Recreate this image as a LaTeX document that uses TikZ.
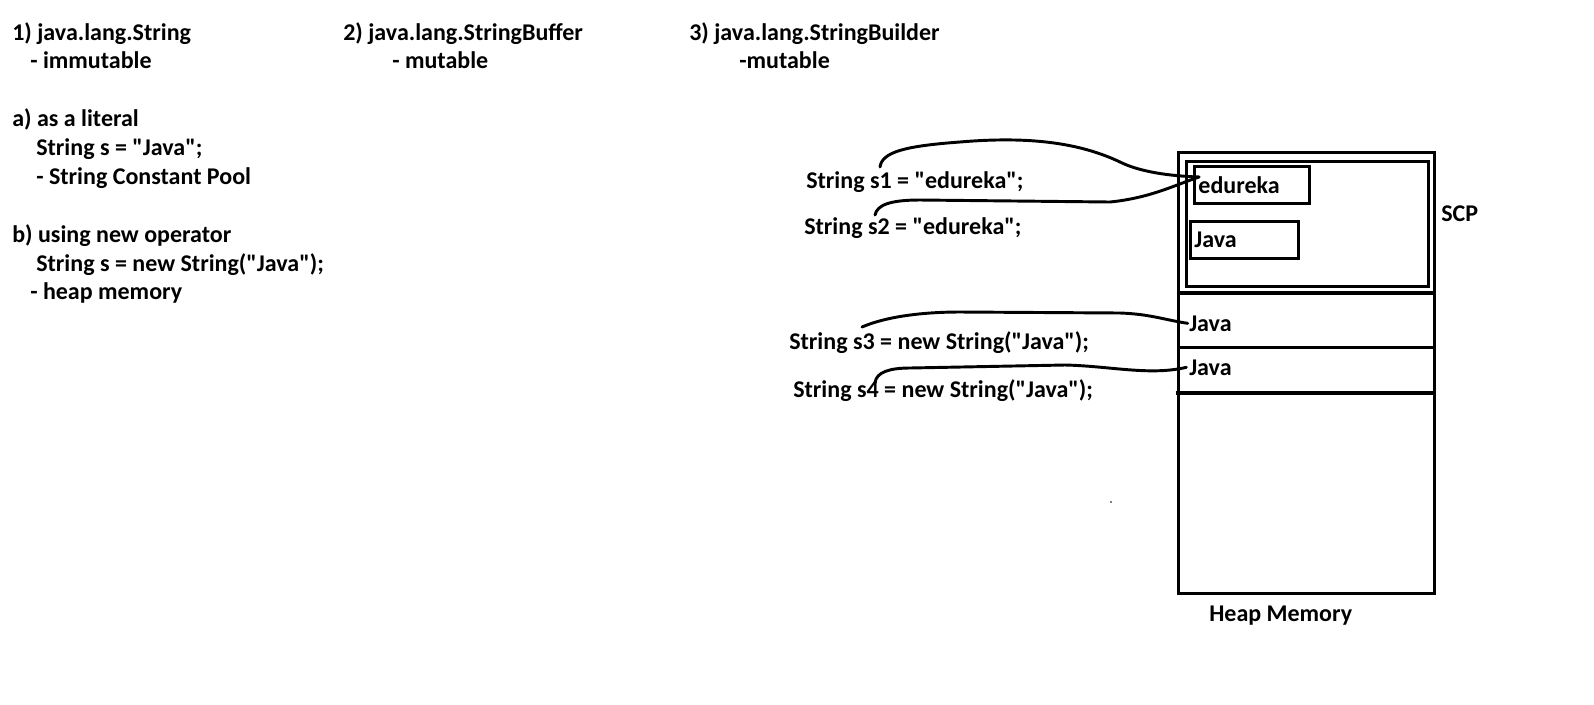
\documentclass[tikz,border=0pt]{standalone}
\usepackage{fontspec}
\setmainfont{Carlito}[Ligatures=TeXOff]
\usetikzlibrary{positioning}

\begin{document}
\begin{tikzpicture}[
  x=0.75pt, y=-0.75pt,
  every node/.style={
    font=\fontsize{18}{21}\selectfont\bfseries,
    inner sep=0pt
  },
  txt/.style={anchor=base west},
  cell/.style={
    draw, line width=2.2pt, anchor=north west,
    inner xsep=3pt, text width=#1, align=left,
    minimum height=28pt
  },
  wall/.style={line width=2.4pt},
  link/.style={line width=2.2pt, line cap=round}
]
  \useasboundingbox (0,0) rectangle (1594,704);

  % left column
  \node[txt] (str)    at (12,40)  {1) java.lang.String};
  \node[txt] (immut)  at (30,68)  {- immutable};
  \node[txt] (buf)    at (343,40) {2) java.lang.StringBuffer};
  \node[txt] (mutb)   at (392,68) {- mutable};
  \node[txt] (bld)    at (689,40) {3) java.lang.StringBuilder};
  \node[txt] (mutc)   at (739,68) {-mutable};

  \node[txt] (lit)    at (12,126) {a) as a literal};
  \node[txt] (litex)  at (36,155) {String s = "Java";};
  \node[txt] (pool)   at (36,184) {- String Constant Pool};
  \node[txt] (newop)  at (12,242) {b) using new operator};
  \node[txt] (newex)  at (36,271) {String s = new String("Java");};
  \node[txt] (hmem)   at (30,299) {- heap memory};

  % heap
  \node[draw, wall, anchor=north west, minimum width=192pt,
        minimum height=330.5pt] (heap) at (1177,151) {};
  \node[draw, wall, anchor=north west, minimum width=181.5pt,
        minimum height=93.5pt] (scp) at (1185,160) {};
  \draw[wall] (heap.west |- 0,293) -- (heap.east |- 0,293);
  \draw[wall] (heap.west |- 0,347.5) -- (heap.east |- 0,347.5);
  \draw[wall] ([xshift=-1pt]heap.west |- 0,393) -- (heap.east |- 0,393);

  \node[cell=80pt] (edu)   at (1193,165) {edureka};
  \node[cell=75pt] (java0) at (1189,220) {Java};
  \node[txt] (java1) at (1189,331) {Java};
  \node[txt] (java2) at (1189,375) {Java};
  \node[txt] (scplbl) at (1441,221) {SCP};
  \node[txt] (heaplbl) at (1209,621) {Heap Memory};
  \fill (1111,502) circle (0.7pt);

  % references
  \node[txt] (s1) at (806,188) {String s1 = "edureka";};
  \node[txt] (s2) at (804,234) {String s2 = "edureka";};
  \node[txt] (s3) at (789,349) {String s3 = new String("Java");};
  \node[txt] (s4) at (793,397) {String s4 = new String("Java");};

  \coordinate (p1) at (880,167);
  \coordinate (p2) at (875,215);
  \coordinate (p3) at (862,327);
  \coordinate (p4) at (875,383);
  \coordinate (hit) at (1199,177);

  \draw[link] (p1) .. controls (882,152) and (905,146) .. (960,142)
    .. controls (1030,136) and (1080,143) .. (1120,162)
    .. controls (1140,172) and (1170,176) .. (hit);
  \draw[link] (p2) .. controls (877,205) and (890,200) .. (920,200)
    -- (1110,202) .. controls (1150,198) and (1175,185) .. (hit);
  \draw[link] (p3) .. controls (890,315) and (930,312) .. (960,312)
    -- (1120,313) .. controls (1150,314) and (1165,320) .. ([xshift=-1pt]java1.west);
  \draw[link] (p4) .. controls (876,372) and (890,368) .. (910,368)
    -- (1065,365) .. controls (1110,366) and (1150,376) .. ([xshift=-2pt]java2.west);

\end{tikzpicture}
\end{document}
